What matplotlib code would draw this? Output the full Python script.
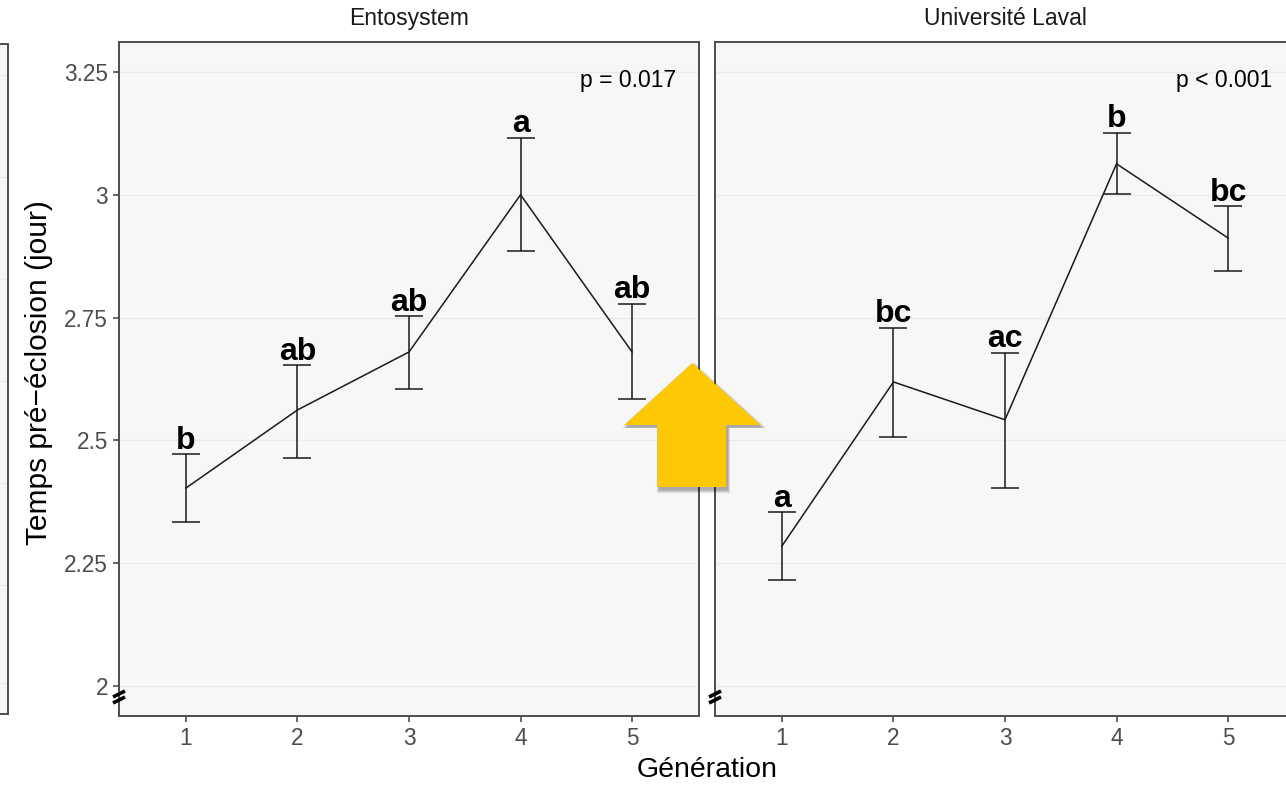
import matplotlib
matplotlib.use("Agg")
import matplotlib.pyplot as plt
from matplotlib.patches import Polygon

plt.rcParams['font.family'] = ['Liberation Sans', 'DejaVu Sans']

# mean pre-hatch time per generation, with upper / lower error limits
generations = [1, 2, 3, 4, 5]
sites = ["Entosystem", "Université Laval"]

ento_mean = [2.403, 2.562, 2.680, 3.000, 2.680]
ento_upper = [2.472, 2.653, 2.753, 3.116, 2.778]
ento_lower = [2.334, 2.464, 2.605, 2.886, 2.584]
ento_letters = ["b", "ab", "ab", "a", "ab"]

laval_mean = [2.285, 2.619, 2.542, 3.063, 2.912]
laval_upper = [2.354, 2.729, 2.678, 3.126, 2.977]
laval_lower = [2.216, 2.507, 2.403, 3.002, 2.845]
laval_letters = ["a", "bc", "ac", "b", "bc"]

p_labels = ["p = 0.017", "p < 0.001"]
y_ticks = [2, 2.25, 2.5, 2.75, 3, 3.25]
y_tick_labels = ["2", "2.25", "2.5", "2.75", "3", "3.25"]

W, H = 1286, 787
fig = plt.figure(figsize=(W / 100, H / 100), dpi=100)

def px_axes(x0, y0, x1, y1):
    # pixel box (top-left origin) -> figure axes
    return fig.add_axes([x0 / W, (H - y1) / H, (x1 - x0) / W, (y1 - y0) / H])

grey = "#4D4D4D"

# edge of the neighbouring panel on the left
edge = px_axes(-500, 44, 8, 714)
edge.set_facecolor("#F7F7F7")
edge.set_xlim(0, 1)
edge.set_ylim(714, 44)
for gy in [75, 177, 279, 381, 483, 585, 683]:
    edge.axhline(gy, color="#EBEBEB", lw=0.9)
edge.set_xticks([])
edge.set_yticks([])
for s in edge.spines.values():
    s.set_color(grey)
    s.set_linewidth(1.4)

panels = [
    (px_axes(119, 42, 699, 716), ento_mean, ento_upper, ento_lower, ento_letters),
    (px_axes(715, 42, 1295, 716), laval_mean, laval_upper, laval_lower, laval_letters),
]

for i, (ax, mean, upper, lower, letters) in enumerate(panels):
    ax.set_facecolor("#F7F7F7")
    ax.set_xlim(0.4, 5.6)
    ax.set_ylim(1.939, 3.311)
    ax.set_yticks(y_ticks)
    ax.set_xticks(generations)
    ax.set_xticklabels([str(g) for g in generations])
    ax.grid(axis="y", color="#EBEBEB", lw=0.9)
    ax.set_axisbelow(True)
    for s in ax.spines.values():
        s.set_color(grey)
        s.set_linewidth(1.4)
    ax.tick_params(axis="both", colors=grey, labelcolor=grey, labelsize=16.3,
                   length=4, width=1.2, pad=4)
    if i == 0:
        ax.set_yticklabels(y_tick_labels)
    else:
        ax.tick_params(axis="y", left=False, labelleft=False)

    ax.plot(generations, mean, color="#1A1A1A", lw=1.1, zorder=3)
    yerr = [[m - lo for m, lo in zip(mean, lower)],
            [up - m for m, up in zip(mean, upper)]]
    ax.errorbar(generations, mean, yerr=yerr, fmt="none", ecolor="#1A1A1A",
                elinewidth=1.1, capsize=10, capthick=1.1, zorder=3)
    for g, up, lab in zip(generations, upper, letters):
        ax.annotate(lab, (g, up), xytext=(0, 4), textcoords="offset points",
                    ha="center", va="baseline", fontsize=23, fontweight="bold",
                    color="black")

    ax.text(1 - 23 / 580, 1 - 38 / 674, p_labels[i], transform=ax.transAxes,
            ha="right", va="center", fontsize=16.5, color="black")
    ax.text(290 / 580, 1 + 24 / 674, sites[i], transform=ax.transAxes,
            ha="center", va="center", fontsize=16.5, color="#1A1A1A")

    # axis break marks at the bottom of the y axis
    for dy in (0.0, 6.0):
        y0 = (716 - 700 + dy) / 674
        ax.plot([-6 / 580, 6 / 580], [y0 - 3 / 674, y0 + 3 / 674],
                transform=ax.transAxes, color="black", lw=2.6,
                solid_capstyle="butt", clip_on=False, zorder=5)

fig.text(707 / W, 1 - 770 / H, "Génération", ha="center", va="center",
         fontsize=20.5, color="black")
fig.text(39 / W, 1 - 373 / H, "Temps pré\u2212éclosion (jour)", ha="center",
         va="center", rotation=90, fontsize=21.5, color="black")

# highlight arrow between the two panels, with a soft drop shadow
arrow_px = [(692, 363), (760, 425), (726, 425), (726, 487),
            (657, 487), (657, 425), (624, 425)]

def arrow_poly(dx, dy, grow, **kw):
    cx, cy = 692, 430
    pts = []
    for x, y in arrow_px:
        gx = x + (x - cx) * grow + dx
        gy = y + (y - cy) * grow + dy
        pts.append((gx / W, 1 - gy / H))
    return Polygon(pts, closed=True, transform=fig.transFigure,
                   edgecolor="none", **kw)

for k in range(6):
    fig.patches.append(arrow_poly(2, 3, 0.012 * k, facecolor="black",
                                  alpha=0.06, zorder=9))
fig.patches.append(arrow_poly(0, 0, 0.0, facecolor="#FFC805", zorder=10))

fig.savefig("out.png", dpi=100)
